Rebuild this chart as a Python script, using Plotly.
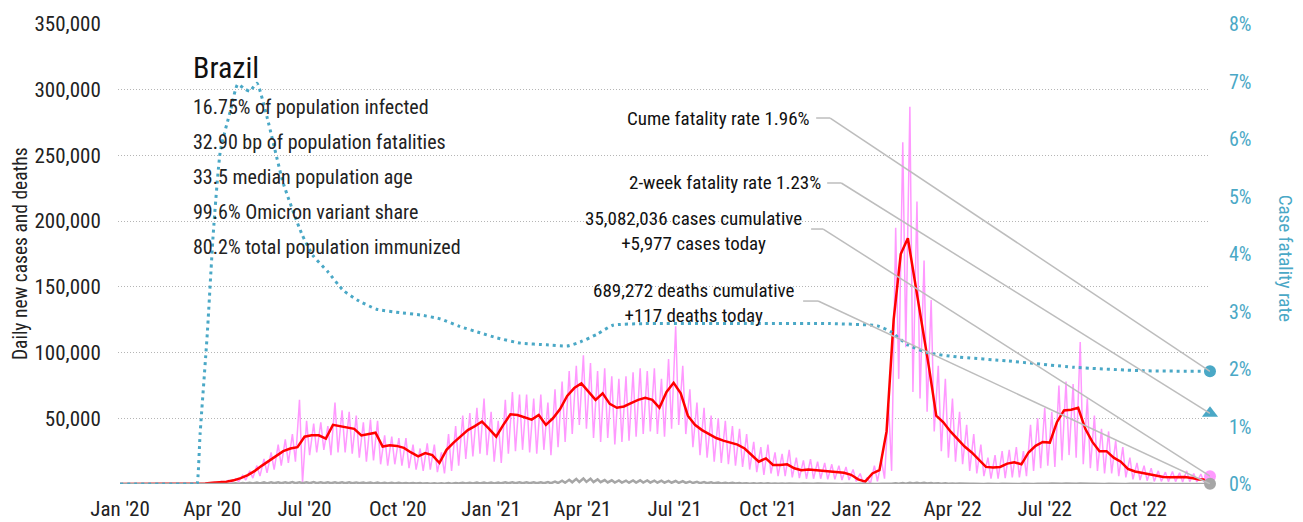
import pandas as pd
import plotly.graph_objects as go

# ---------------------------------------------------------------------------
# Data: Brazil COVID-19, weekly readings from 2020-01-01 (one entry per week)
# ---------------------------------------------------------------------------
week0 = pd.Timestamp("2020-01-01")
last_date = pd.Timestamp("2022-12-11")

# 7-day average of new cases, value at the start of each week
cases_avg = [
    0, 0, 0, 0, 0, 0, 0, 0, 0, 0, 0, 100, 300, 900, 1300, 1700, 2800, 4500, 6800, 10000,
    14000, 17500, 21000, 25000, 27000, 28000, 36000, 37000, 37000, 34500, 45000, 44000, 43000, 42000, 37000, 38000,
    39000, 28500, 29500, 29000, 27500, 24000, 21000, 23500, 22000, 16000, 26000, 31500, 36000, 41000, 44000, 47500,
    42000, 36000, 45000, 53000, 52500, 51000, 49000, 52500, 45000, 50000, 57000, 67000, 73000, 76500, 70000, 64000,
    69000, 61000, 58000, 59000, 61500, 64000, 65500, 64000, 58000, 70000, 77000, 69000, 52000, 45000, 41000, 38000,
    35000, 33000, 31500, 30000, 27000, 22000, 17000, 19500, 14500, 14500, 15000, 12000, 10500, 11000, 10500, 10000,
    9000, 9000, 8500, 7000, 3500, 1800, 8000, 10500, 40000, 125000, 175000, 187000, 155000, 120000, 88000, 52000,
    47000, 40000, 34000, 28500, 24000, 18500, 13000, 12500, 13000, 15500, 16500, 15000, 24000, 29000, 32000, 31500,
    47000, 56000, 56500, 58000, 42000, 32000, 25000, 25000, 20000, 17000, 11500, 9500, 8400, 7000, 6000, 5300,
    5200, 5000, 5300, 4500, 3500, 3500,
]

# daily new cases: mid-week high and weekend low of each week
cases_high = [
    0, 0, 0, 0, 0, 0, 0, 0, 0, 0, 0, 200, 600, 1300, 2000, 2800, 4000, 6500, 10000, 14000,
    19000, 24000, 30000, 34000, 38000, 64000, 48000, 46000, 47000, 44000, 62000, 56000, 55000, 52000, 47000, 49000,
    48000, 37000, 36000, 35000, 35000, 30000, 27000, 31000, 30000, 24000, 38000, 44000, 52000, 54000, 58000, 65000,
    55000, 48000, 64000, 70000, 68000, 68000, 65000, 68000, 62000, 72000, 78000, 86000, 90000, 98000, 92000, 86000,
    88000, 82000, 80000, 82000, 85000, 88000, 86000, 88000, 80000, 95000, 120000, 90000, 72000, 62000, 58000, 52000,
    50000, 48000, 44000, 42000, 38000, 32000, 28000, 30000, 24000, 23000, 26000, 20000, 18000, 19000, 17000, 16000,
    15000, 14000, 13000, 11000, 8000, 5000, 14000, 18000, 60000, 195000, 260000, 287000, 215000, 170000, 140000, 90000,
    80000, 65000, 55000, 45000, 38000, 30000, 20000, 22000, 25000, 26000, 28000, 25000, 45000, 50000, 58000, 55000,
    75000, 78000, 76000, 108000, 65000, 52000, 42000, 40000, 33000, 28000, 20000, 16000, 14000, 12000, 10000, 9000,
    9500, 8500, 10000, 8000, 7500, 7000,
]
cases_low = [
    0, 0, 0, 0, 0, 0, 0, 0, 0, 0, 0, 50, 200, 600, 1000, 1200, 1800, 3000, 4500, 6000,
    8500, 11000, 14000, 16000, 17000, 1000, 22000, 24000, 26000, 22000, 24000, 24000, 23000, 20000, 17000, 18000,
    15000, 14000, 15000, 14000, 12000, 11000, 10000, 11000, 9000, 8000, 10000, 14000, 19000, 21000, 23000, 22000,
    17000, 16000, 23000, 25000, 26000, 24000, 23000, 26000, 22000, 28000, 32000, 38000, 45000, 42000, 35000, 32000,
    35000, 30000, 32000, 33000, 36000, 38000, 40000, 38000, 36000, 42000, 45000, 38000, 28000, 22000, 20000, 17000,
    16000, 15000, 14000, 13000, 11000, 9000, 7000, 8000, 6000, 6000, 5000, 4500, 4000, 4000, 4000, 3500,
    3500, 3000, 3000, 2000, 500, 0, 2000, 4000, 10000, 80000, 104000, 70000, 65000, 55000, 40000, 25000,
    20000, 17000, 15000, 10000, 8000, 6000, 4000, 4000, 4500, 5000, 5000, 6000, 10000, 12000, 14000, 13000,
    18000, 22000, 20000, 15000, 12000, 10000, 8000, 8000, 6000, 5000, 3500, 3000, 2500, 2000, 2000, 1800,
    1800, 1500, 1800, 1500, 1500, 1500,
]

# daily new deaths: mid-week high and weekend low of each week
deaths_high = [
    0, 0, 0, 0, 0, 0, 0, 0, 0, 0, 0, 0, 50, 150, 300, 450, 600, 800, 900, 1100,
    1200, 1300, 1300, 1350, 1400, 1350, 1300, 1400, 1350, 1300, 1350, 1300, 1250, 1200, 1150, 1100,
    1050, 950, 900, 850, 800, 750, 700, 650, 600, 550, 700, 800, 900, 1000, 1050, 1100,
    1050, 1150, 1250, 1300, 1350, 1300, 1300, 1350, 1400, 1800, 2500, 3200, 3900, 4200, 4000, 3500,
    3000, 2800, 2700, 2600, 2700, 2800, 2700, 2600, 2500, 2400, 2300, 2100, 1900, 1700, 1500, 1300,
    1100, 950, 850, 750, 650, 600, 550, 500, 450, 420, 400, 380, 350, 330, 300, 280,
    260, 250, 230, 200, 180, 150, 150, 160, 300, 500, 700, 850, 950, 900, 800, 650,
    550, 450, 380, 320, 280, 250, 230, 210, 200, 190, 180, 200, 220, 250, 270, 290,
    320, 330, 320, 300, 270, 240, 200, 180, 160, 150, 140, 130, 120, 120, 110, 100,
    100, 100, 90, 90, 90, 90,
]
deaths_low = [
    0, 0, 0, 0, 0, 0, 0, 0, 0, 0, 0, 0, 20, 60, 120, 200, 250, 350, 400, 450,
    500, 550, 550, 600, 600, 580, 560, 600, 580, 560, 580, 560, 540, 520, 500, 480,
    460, 400, 380, 360, 340, 320, 300, 280, 260, 240, 300, 340, 380, 420, 450, 470,
    450, 500, 540, 560, 580, 560, 560, 580, 600, 750, 1000, 1300, 1500, 1600, 1500, 1400,
    1200, 1100, 1050, 1000, 1050, 1100, 1050, 1000, 980, 950, 900, 820, 750, 650, 580, 500,
    430, 380, 340, 300, 260, 230, 210, 190, 170, 160, 150, 140, 130, 120, 110, 100,
    95, 90, 80, 70, 60, 50, 50, 55, 110, 180, 260, 320, 360, 340, 300, 240,
    200, 170, 140, 120, 100, 90, 85, 80, 75, 70, 65, 75, 80, 90, 100, 110,
    120, 125, 120, 110, 100, 90, 75, 65, 60, 55, 50, 48, 45, 45, 40, 38,
    38, 38, 35, 35, 35, 35,
]

# case fatality rate (%), cumulative deaths over cumulative cases
cfr_dates = [
    "2020-01-01", "2020-03-16", "2020-03-17", "2020-03-20", "2020-03-27", "2020-04-02", "2020-04-09",
    "2020-04-19", "2020-04-26", "2020-05-03", "2020-05-08", "2020-05-15", "2020-05-25", "2020-06-10",
    "2020-06-28", "2020-07-09", "2020-07-24", "2020-08-08", "2020-08-22", "2020-09-10", "2020-10-03",
    "2020-10-23", "2020-11-12", "2020-12-01", "2020-12-21", "2021-01-07", "2021-01-30", "2021-02-25",
    "2021-03-17", "2021-03-30", "2021-04-16", "2021-05-01", "2021-06-01", "2021-09-01", "2021-12-01",
    "2022-01-17", "2022-01-30", "2022-02-16", "2022-03-08", "2022-04-06", "2022-05-26", "2022-07-30",
    "2022-10-05", "2022-12-11",
]
cfr_values = [
    0.0, 0.0, 0.0, 0.88, 2.6, 4.37, 5.8,
    6.5, 6.95, 6.87, 6.83, 6.97, 6.38, 5.23,
    4.36, 3.98, 3.69, 3.37, 3.20, 3.04, 2.98,
    2.94, 2.87, 2.74, 2.63, 2.54, 2.45, 2.42,
    2.40, 2.47, 2.61, 2.76, 2.79, 2.79, 2.79,
    2.75, 2.65, 2.42, 2.28, 2.21, 2.14, 2.03,
    1.97, 1.96,
]

cases_today = 5977
deaths_today = 117
cases_cumulative = 35082036
deaths_cumulative = 689272
cfr_cume = 1.96
cfr_2wk = 1.23

stats_lines = [
    "16.75% of population infected",
    "32.90 bp of population fatalities",
    "33.5 median population age",
    "99.6% Omicron variant share",
    "80.2% total population immunized",
]
cfr_ticks = [0, 1, 2, 3, 4, 5, 6, 7, 8]

# ---------------------------------------------------------------------------
FONT = "Roboto Condensed, Liberation Sans, sans-serif"
PINK = "#ff99ff"
RED = "#ff0000"
GREY = "#a6a6a6"
TEAL = "#4aa8c6"
CONNECTOR = "#bdbdbd"

weeks = [week0 + pd.Timedelta(days=7 * i) for i in range(len(cases_avg))]


def high_low_series(highs, lows, last_value):
    xs, ys = [], []
    for w, hi, lo in zip(weeks, highs, lows):
        xs += [w + pd.Timedelta(days=2), w + pd.Timedelta(days=5)]
        ys += [hi, lo]
    xs.append(last_date)
    ys.append(last_value)
    return xs, ys


daily_x, daily_y = high_low_series(cases_high, cases_low, cases_today)
death_x, death_y = high_low_series(deaths_high, deaths_low, deaths_today)
avg_x = weeks + [last_date]
avg_y = cases_avg + [4500]

fig = go.Figure()
fig.add_trace(go.Scatter(x=daily_x, y=daily_y, mode="lines",
                         line=dict(color=PINK, width=1.5), name="Daily cases"))
fig.add_trace(go.Scatter(x=avg_x, y=avg_y, mode="lines",
                         line=dict(color=RED, width=2.5), name="7-day average"))
fig.add_trace(go.Scatter(x=death_x, y=death_y, mode="lines",
                         line=dict(color=GREY, width=2.5), name="Daily deaths"))
fig.add_trace(go.Scatter(x=pd.to_datetime(cfr_dates), y=cfr_values, yaxis="y2", mode="lines",
                         line=dict(color=TEAL, width=3, dash="3px,4px", shape="spline", smoothing=0.5),
                         name="Case fatality rate"))

# end-of-series markers
fig.add_trace(go.Scatter(x=[last_date], y=[cfr_cume], yaxis="y2", mode="markers", cliponaxis=False,
                         marker=dict(symbol="circle", size=12, color=TEAL)))
fig.add_trace(go.Scatter(x=[last_date], y=[cfr_2wk], yaxis="y2", mode="markers", cliponaxis=False,
                         marker=dict(symbol="triangle-up", size=14, color=TEAL)))
fig.add_trace(go.Scatter(x=[last_date], y=[cases_today], mode="markers", cliponaxis=False,
                         marker=dict(symbol="circle", size=12, color=PINK)))
fig.add_trace(go.Scatter(x=[last_date], y=[deaths_today], mode="markers", cliponaxis=False,
                         marker=dict(symbol="circle", size=12, color=GREY)))

# callouts: (text, text anchor date, elbow start, elbow end, label height, axis, end value)
callouts = [
    ("Cume fatality rate 1.96%", "2021-11-13 14:00", "2021-11-17 14:00", "2021-12-01 10:00", 6.365, "y2", cfr_cume),
    ("2-week fatality rate 1.23%", "2021-11-24 12:00", "2021-11-28 10:00", "2021-12-12 08:00", 5.235, "y2", cfr_2wk),
    (f"{cases_cumulative:,} cases cumulative<br>+{cases_today:,} cases today",
     "2021-11-05 17:00", "2021-11-12 14:00", "2021-11-24 12:00", 192500, "y", cases_today),
    (f"{deaths_cumulative:,} deaths cumulative<br>+{deaths_today:,} deaths today",
     "2021-10-29 19:00", "2021-11-04 17:00", "2021-11-19 12:00", 137700, "y", deaths_today),
]
shapes = []
annotations = []
for text, tx, e0, e1, ly, axis, end_val in callouts:
    line_y = ly if axis == "y2" else ly + 1500
    shapes.append(dict(type="line", xref="x", yref=axis, x0=e0, x1=e1, y0=line_y, y1=line_y,
                       line=dict(color=CONNECTOR, width=1.5), layer="above"))
    shapes.append(dict(type="line", xref="x", yref=axis, x0=e1, x1=last_date, y0=line_y, y1=end_val,
                       line=dict(color=CONNECTOR, width=1.5), layer="above"))
    annotations.append(dict(text=text, x=tx, y=ly, xref="x", yref=axis, xanchor="right",
                            yanchor="middle", align="center", showarrow=False,
                            font=dict(family=FONT, size=19, color="#111111")))

# country title and key statistics
annotations.append(dict(text="Brazil", x=0.0665, y=0.906, xref="paper", yref="paper",
                        xanchor="left", yanchor="middle", showarrow=False,
                        font=dict(family=FONT, size=30, color="#111111")))
for k, line in enumerate(stats_lines):
    annotations.append(dict(text=line, x=0.0665, y=0.8196 - k * 0.0763, xref="paper", yref="paper",
                            xanchor="left", yanchor="middle", showarrow=False,
                            font=dict(family=FONT, size=20, color="#222222")))

# axis titles
annotations.append(dict(text="Daily new cases and deaths", x=-0.0897, y=0.5, xref="paper", yref="paper",
                        textangle=-90, showarrow=False, xanchor="center", yanchor="middle",
                        font=dict(family=FONT, size=19.5, color="#222222")))
annotations.append(dict(text="Case fatality rate", x=1.0687, y=0.492, xref="paper", yref="paper",
                        textangle=90, showarrow=False, xanchor="center", yanchor="middle",
                        font=dict(family=FONT, size=19, color=TEAL)))

fig.update_layout(
    width=1303, height=522,
    margin=dict(l=118, r=93, t=24, b=38),
    paper_bgcolor="white", plot_bgcolor="white",
    showlegend=False,
    font=dict(family=FONT, size=19, color="#222222"),
    xaxis=dict(
        type="date", range=["2019-12-30", "2022-12-11"], automargin=False,
        tick0="2020-01-01", dtick="M3", tickformat="%b '%y",
        showgrid=False, zeroline=False, showline=False,
        ticks="outside", ticklen=6, tickcolor="rgba(0,0,0,0)",
        tickfont=dict(family=FONT, size=21, color="#222222"),
    ),
    yaxis=dict(
        range=[0, 350000], tickvals=[50000, 100000, 150000, 200000, 250000, 300000, 350000],
        automargin=False,
        tickformat=",d", showgrid=True, gridcolor="#b5b5b5", griddash="1px,2px", gridwidth=1,
        zeroline=False, showline=False,
        ticks="outside", ticklen=12, tickcolor="rgba(0,0,0,0)",
        tickfont=dict(family=FONT, size=21, color="#222222"),
    ),
    yaxis2=dict(
        overlaying="y", side="right", range=[0, 8], tickvals=cfr_ticks, automargin=False,
        ticktext=[f"{v}%" for v in cfr_ticks], showgrid=False, zeroline=False, showline=False,
        ticks="outside", ticklen=14, tickcolor="rgba(0,0,0,0)",
        tickfont=dict(family=FONT, size=20, color=TEAL),
    ),
    shapes=shapes,
    annotations=annotations,
)

fig.write_html("out.html")
